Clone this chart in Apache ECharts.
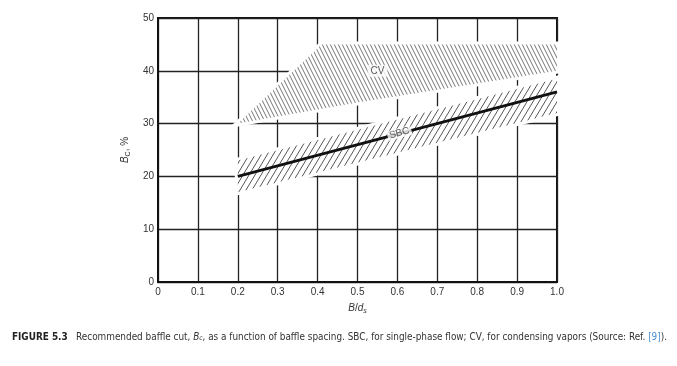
<!DOCTYPE html>
<html>
<head>
<meta charset="utf-8">
<script src="https://cdn.jsdelivr.net/npm/echarts@6/dist/echarts.min.js"></script>
<style>
html,body{margin:0;padding:0;background:#fff;}
#c{width:677px;height:366px;}
</style>
</head>
<body>
<div id="c"></div>
<script>
// ---- data ----
const xTickLabels = ['0','0.1','0.2','0.3','0.4','0.5','0.6','0.7','0.8','0.9','1.0'];
const yTickLabels = ['0','10','20','30','40','50'];
const sbcLine = [[0.2, 20], [1.0, 36]];
const sbcBand = [[0.2, 23], [1.0, 38.5], [1.0, 32], [0.2, 17]];
const cvRegion = [[0.2, 30], [0.41, 45], [1.0, 45], [1.0, 40], [0.5, 34]];
const cvLabelPos = [0.55, 40];
const sbcLabelPos = [0.605, 28.2];

function hatch(w, h, dir, color, lw) {
  const c = document.createElement('canvas');
  c.width = w; c.height = h;
  const g = c.getContext('2d');
  g.strokeStyle = color; g.lineWidth = lw;
  for (let k = -1; k <= 1; k++) {
    g.beginPath();
    if (dir === 'back') { g.moveTo(k*w, 0); g.lineTo(k*w + w, h); }
    else { g.moveTo(k*w, h); g.lineTo(k*w + w, 0); }
    g.stroke();
  }
  return c;
}
const cvPat = {image: hatch(4, 8, 'back', '#666', 0.9), repeat: 'repeat'};
const sbcPat = {image: hatch(6, 10, 'fwd', '#555', 1), repeat: 'repeat'};

function polySeries(pts, pattern, z) {
  return {
    type: 'custom', z: z,
    data: pts,
    renderItem: function (params, api) {
      if (params.dataIndex !== 0) return;
      const p = pts.map(d => api.coord(d));
      return {
        type: 'group',
        children: [
          {type: 'polygon', shape: {points: p}, style: {fill: '#fff', stroke: '#fff', lineWidth: 6}},
          {type: 'polygon', shape: {points: p}, style: {fill: pattern, stroke: null}}
        ]
      };
    },
    silent: true
  };
}

const chart = echarts.init(document.getElementById('c'), null, {renderer: 'canvas'});
const font = 'Liberation Sans, Arial, sans-serif';
const capFont = 'Liberation Sans Narrow, DejaVu Sans Condensed, Arial Narrow, sans-serif';
chart.setOption({
  animation: false,
  backgroundColor: '#fff',
  grid: {left: 158, right: 120, top: 18, bottom: 84, show: true, borderColor: '#111', borderWidth: 2, backgroundColor: 'transparent'},
  xAxis: {
    type: 'value', min: 0, max: 1, interval: 0.1,
    axisLine: {show: true, lineStyle: {color: '#111', width: 2}},
    axisTick: {show: false},
    splitLine: {show: true, lineStyle: {color: '#222', width: 1.3}},
    axisLabel: {color: '#333', fontSize: 10, fontFamily: font, margin: 5,
      formatter: (v, i) => xTickLabels[Math.round(v * 10)]},
    name: '{i|B}/{i|d}{s|s}', nameLocation: 'middle', nameGap: 20,
    nameTextStyle: {color: '#333', fontSize: 10, fontFamily: font,
      rich: {i: {fontStyle: 'italic', fontSize: 10, color: '#333'}, s: {fontStyle: 'italic', fontSize: 7, verticalAlign: 'bottom', padding: [6, 0, 0, 0], color: '#333'}}}
  },
  yAxis: {
    type: 'value', min: 0, max: 50, interval: 10,
    axisLine: {show: true, lineStyle: {color: '#111', width: 2}},
    axisTick: {show: false},
    splitLine: {show: true, lineStyle: {color: '#222', width: 1.3}},
    axisLabel: {color: '#333', fontSize: 10, fontFamily: font, margin: 4,
      formatter: (v) => yTickLabels[Math.round(v / 10)]},
    name: '{i|B}{s|C}, %', nameLocation: 'middle', nameGap: 23, nameRotate: 90,
    nameTextStyle: {color: '#333', fontSize: 10, fontFamily: font,
      rich: {i: {fontStyle: 'italic', fontSize: 10, color: '#333'}, s: {fontSize: 7, verticalAlign: 'bottom', padding: [6, 0, 0, 0], color: '#333'}}}
  },
  series: [
    polySeries(cvRegion, cvPat, 2),
    polySeries(sbcBand, sbcPat, 3),
    {type: 'line', z: 4, data: sbcLine, symbol: 'none', lineStyle: {color: '#111', width: 3}, silent: true},
    {type: 'scatter', z: 5, symbolSize: 0, data: [cvLabelPos],
      label: {show: true, position: 'inside', formatter: 'CV', color: '#333', fontSize: 10, fontFamily: font, backgroundColor: '#fff', padding: [1, 3]}},
    {type: 'scatter', z: 5, symbolSize: 0, data: [sbcLabelPos],
      label: {show: true, position: 'inside', formatter: 'SBC', rotate: 15, color: '#333', fontSize: 10, fontFamily: font, backgroundColor: '#fff', padding: [0, 2]}}
  ],
  graphic: [{
    type: 'text', left: 12, top: 332,
    style: {
      text: '{b|FIGURE 5.3}   Recommended baffle cut, {i|B}{s|c}, as a function of baffle spacing. SBC, for single-phase flow; CV, for condensing vapors (Source: Ref. {u|[9]}).',
      fontFamily: capFont, fontSize: 9.9, fill: '#333',
      rich: {
        b: {fontWeight: 'bold', fontSize: 9.9, fill: '#222', fontFamily: capFont},
        i: {fontStyle: 'italic', fontSize: 9.9, fontFamily: capFont},
        s: {fontStyle: 'italic', fontSize: 6.5, verticalAlign: 'bottom', fontFamily: capFont},
        u: {fill: '#4a90d0', fontSize: 9.9, fontFamily: capFont}
      }
    }
  }]
});
</script>
</body>
</html>
